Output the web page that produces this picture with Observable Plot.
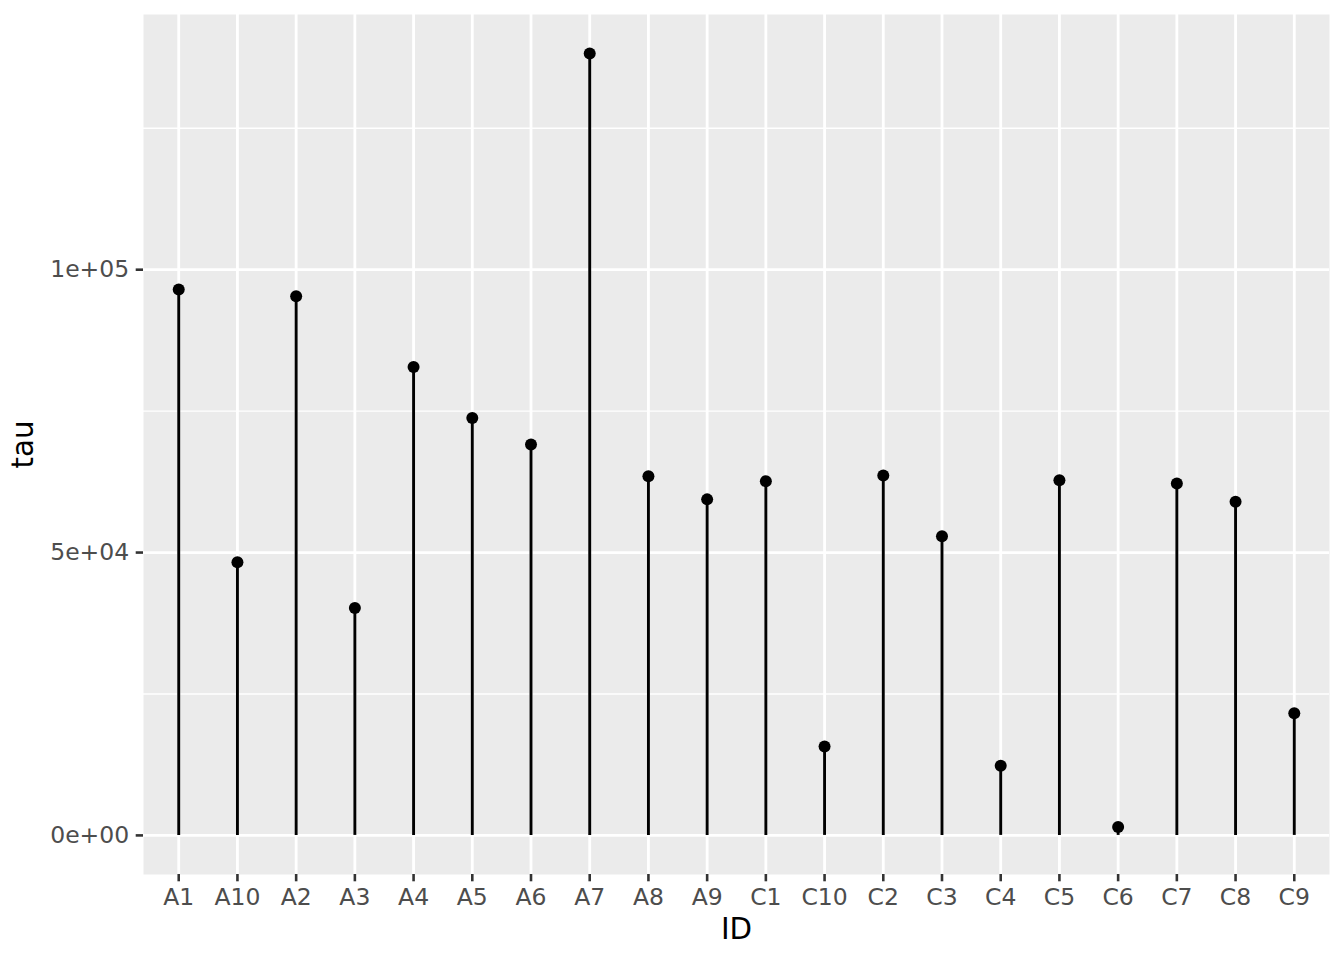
<!DOCTYPE html>
<html>
<head>
<meta charset="utf-8">
<script src="https://cdn.jsdelivr.net/npm/d3@7"></script>
<script src="https://cdn.jsdelivr.net/npm/@observablehq/plot@0.6"></script>
<style>
  html, body { margin: 0; padding: 0; background: #ffffff; }
  #chart svg { display: block; }
</style>
</head>
<body>
<div id="chart"></div>
<script>
// ---- data ----
const ids = ["A1","A10","A2","A3","A4","A5","A6","A7","A8","A9",
             "C1","C10","C2","C3","C4","C5","C6","C7","C8","C9"];
const tau = [96500, 48300, 95300, 40200, 82800, 73800, 69100, 138200, 63500, 59400,
             62600, 15700, 63600, 52900, 12300, 62800, 1500, 62200, 59000, 21600];
const yMajorTicks = [0, 50000, 100000];
const yMajorLabels = ["0e+00", "5e+04", "1e+05"];
const yMinorTicks = [25000, 75000, 125000];
const xTitle = "ID";
const yTitle = "tau";

const data = ids.map((id, i) => ({ID: id, tau: tau[i]}));
const maxV = d3.max(tau);
const lo = Math.min(0, d3.min(tau));
const span = maxV - lo;

const tickText = "#4D4D4D";
const tickStroke = "#333333";

const chart = Plot.plot({
  width: 1344,
  height: 960,
  marginLeft: 143,
  marginRight: 15,
  marginTop: 14,
  marginBottom: 86,
  style: {fontFamily: "'DejaVu Sans', sans-serif", background: "#ffffff"},
  x: {type: "point", domain: ids, padding: 0.6, round: false, axis: null},
  y: {domain: [lo - 0.05 * span, maxV + 0.05 * span], axis: null},
  marks: [
    Plot.frame({fill: "#EBEBEB", stroke: "none"}),
    Plot.ruleY(yMinorTicks, {stroke: "#ffffff", strokeWidth: 1.4}),
    Plot.ruleY(yMajorTicks, {stroke: "#ffffff", strokeWidth: 2.8}),
    Plot.ruleX(ids, {stroke: "#ffffff", strokeWidth: 2.8}),
    Plot.ruleX(data, {x: "ID", y1: 0, y2: "tau", stroke: "#000000", strokeWidth: 2.9}),
    Plot.dot(data, {x: "ID", y: "tau", r: 6, fill: "#000000", stroke: "none"}),
    Plot.axisY({
      ticks: yMajorTicks,
      tickFormat: (d) => yMajorLabels[yMajorTicks.indexOf(d)],
      tickSize: 7.3,
      tickPadding: 7,
      fontSize: 23.5,
      fill: tickText,
      stroke: tickStroke,
      strokeWidth: 2.6,
      label: null
    }),
    Plot.axisX({
      tickSize: 7.3,
      tickPadding: 6.5,
      fontSize: 23.5,
      fill: tickText,
      stroke: tickStroke,
      strokeWidth: 2.6,
      label: null
    }),
    Plot.text([xTitle], {
      frameAnchor: "bottom", dy: 64.5, lineAnchor: "bottom",
      textAnchor: "middle", fontSize: 29.3, fill: "#000000"
    }),
    Plot.text([yTitle], {
      frameAnchor: "left", dx: -111, rotate: -90, lineAnchor: "bottom",
      textAnchor: "middle", fontSize: 29.3, fill: "#000000"
    })
  ]
});
document.getElementById("chart").appendChild(chart);
</script>
</body>
</html>
